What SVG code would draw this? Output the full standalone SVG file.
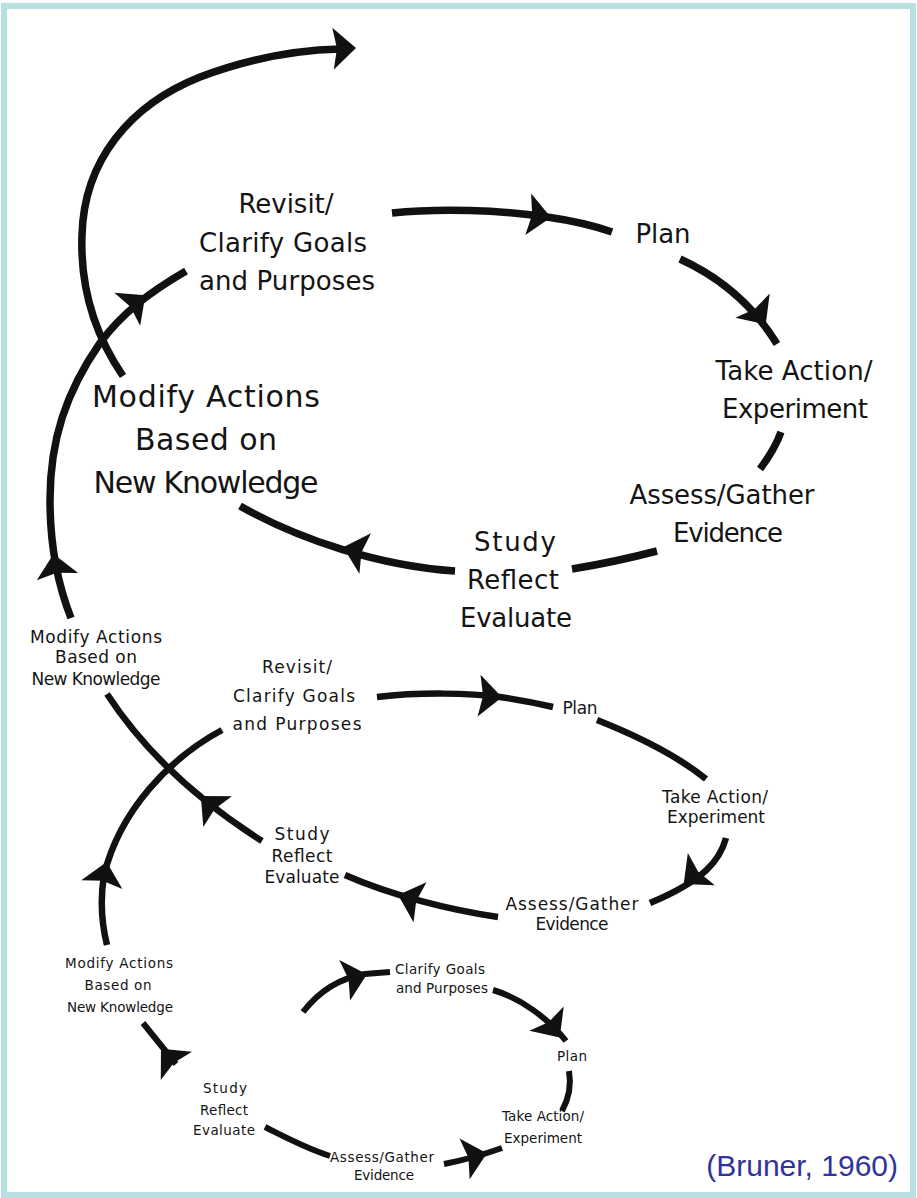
<svg xmlns="http://www.w3.org/2000/svg" xmlns:xlink="http://www.w3.org/1999/xlink" width="917" height="1198" viewBox="0 0 917 1198">
<style>
  .ln { fill: none; stroke: #111; stroke-linecap: butt; }
  .w1 { stroke-width: 7.5; }
  .w2 { stroke-width: 6.5; }
  .w3 { stroke-width: 6; }
  .ah { fill: #111; }
  text { font-family: "DejaVu Sans", "Liberation Sans", sans-serif; fill: #141414; text-anchor: middle; }
  .t1 { font-size: 26px; }
  .t0 { font-size: 30px; }
  .t2 { font-size: 17px; }
  .t3 { font-size: 13.5px; }
  .cite { font-family: "Liberation Sans", Arial, sans-serif; font-size: 30px; fill: #32339a; text-anchor: end; }
</style>
<defs>
  <path id="arrowhead" d="M3,0 L-20,-21 L-16,0 L-20,21 Z"/>
</defs>
<rect x="0" y="0" width="917" height="1198" fill="#ffffff"/>
<rect x="4" y="6" width="909" height="1189" fill="#ffffff" stroke="#b8dfe1" stroke-width="6"/>

<g id="connectors">
  <!-- big loop -->
  <path class="ln w1" d="M123,376 C95,335 80,290 82,235 C84,160 130,105 200,77 C250,58 300,50 340,49"/>
  <path class="ln w1" d="M71,618 C58,585 50,545 50,500 C50,440 66,392 100,343 C122,313 150,292 186,271"/>
  <path class="ln w1" d="M392,213 C440,208 500,210 547,217 C575,221 595,226 612,232"/>
  <path class="ln w1" d="M680,259 C715,275 750,300 777,344"/>
  <path class="ln w1" d="M781,432 C776,446 769,457 760,469"/>
  <path class="ln w1" d="M657,551 Q615,562 572,569"/>
  <path class="ln w1" d="M455,571 C380,566 300,540 240,506"/>
  <!-- middle loop -->
  <path class="ln w2" d="M377,697 C420,692 470,693 500,697 C520,700 540,704 553,707"/>
  <path class="ln w2" d="M597,720 C640,737 680,758 706,779"/>
  <path class="ln w2" d="M726,838 C720,860 705,880 650,903"/>
  <path class="ln w2" d="M498,917 C450,910 390,895 345,875"/>
  <path class="ln w2" d="M262,841 C210,808 150,760 107,694"/>
  <path class="ln w2" d="M222,730 C170,758 120,810 104,875 C100,900 102,925 107,945"/>
  <!-- bottom loop -->
  <path class="ln w3" d="M303,1012 C320,990 340,978 365,974 L390,972"/>
  <path class="ln w3" d="M493,990 C520,998 548,1018 566,1041"/>
  <path class="ln w3" d="M569,1071 C572,1088 568,1100 562,1111"/>
  <path class="ln w3" d="M444,1164 C465,1160 485,1154 502,1148"/>
  <path class="ln w3" d="M265,1127 C285,1137 305,1148 330,1156"/>
  <path class="ln w3" d="M143,1023 L176,1064"/>
  <!-- arrowheads -->
  <use xlink:href="#arrowhead" class="ah" transform="translate(353,48) rotate(-2)"/>
  <use xlink:href="#arrowhead" class="ah" transform="translate(54,557) rotate(-100)"/>
  <use xlink:href="#arrowhead" class="ah" transform="translate(143,297) rotate(-38)"/>
  <use xlink:href="#arrowhead" class="ah" transform="translate(548,217) rotate(8)"/>
  <use xlink:href="#arrowhead" class="ah" transform="translate(764,322) rotate(55)"/>
  <use xlink:href="#arrowhead" class="ah" transform="translate(346,548) rotate(196)"/>
  <use xlink:href="#arrowhead" class="ah" transform="translate(499,697) rotate(4)"/>
  <use xlink:href="#arrowhead" class="ah" transform="translate(686,882) rotate(140)"/>
  <use xlink:href="#arrowhead" class="ah" transform="translate(401,896) rotate(198)"/>
  <use xlink:href="#arrowhead" class="ah" transform="translate(203,798) rotate(223)"/>
  <use xlink:href="#arrowhead" class="ah" transform="translate(106,865) rotate(-78)"/>
  <use xlink:href="#arrowhead" class="ah" transform="translate(364,975) rotate(-15)"/>
  <use xlink:href="#arrowhead" class="ah" transform="translate(558,1035) rotate(55)"/>
  <use xlink:href="#arrowhead" class="ah" transform="translate(484,1154) rotate(-14)"/>
  <use xlink:href="#arrowhead" class="ah" transform="translate(163,1051) rotate(228)"/>
</g>

<!-- big loop nodes -->
<g id="n-revisit-1">
  <text class="t1" x="286" y="213" textLength="95">Revisit/</text>
  <text class="t1" x="283" y="252" textLength="168">Clarify Goals</text>
  <text class="t1" x="287" y="290" textLength="176">and Purposes</text>
</g>
<g id="n-plan-1"><text class="t1" x="663" y="243" textLength="55">Plan</text></g>
<g id="n-action-1">
  <text class="t1" x="794" y="380" textLength="157">Take Action/</text>
  <text class="t1" x="795" y="418" textLength="146">Experiment</text>
</g>
<g id="n-assess-1">
  <text class="t1" x="722" y="504" textLength="185">Assess/Gather</text>
  <text class="t1" x="728" y="542" textLength="110">Evidence</text>
</g>
<g id="n-study-1">
  <text class="t1" x="515" y="551" textLength="82">Study</text>
  <text class="t1" x="513" y="589" textLength="92">Reflect</text>
  <text class="t1" x="516" y="627" textLength="112">Evaluate</text>
</g>
<g id="n-modify-1">
  <text class="t0" x="206" y="407" textLength="228">Modify Actions</text>
  <text class="t0" x="206" y="450" textLength="142">Based on</text>
  <text class="t0" x="206" y="493" textLength="225">New Knowledge</text>
</g>

<!-- middle loop nodes -->
<g id="n-modify-2">
  <text class="t2" x="96" y="643" textLength="132">Modify Actions</text>
  <text class="t2" x="96" y="663" textLength="82">Based on</text>
  <text class="t2" x="96" y="685" textLength="129">New Knowledge</text>
</g>
<g id="n-revisit-2">
  <text class="t2" x="297" y="673" textLength="70">Revisit/</text>
  <text class="t2" x="294" y="702" textLength="122">Clarify Goals</text>
  <text class="t2" x="297" y="730" textLength="129">and Purposes</text>
</g>
<g id="n-plan-2"><text class="t2" x="580" y="714" textLength="35">Plan</text></g>
<g id="n-action-2">
  <text class="t2" x="715" y="803" textLength="106">Take Action/</text>
  <text class="t2" x="716" y="823" textLength="98">Experiment</text>
</g>
<g id="n-assess-2">
  <text class="t2" x="572" y="910" textLength="133">Assess/Gather</text>
  <text class="t2" x="572" y="930" textLength="73">Evidence</text>
</g>
<g id="n-study-2">
  <text class="t2" x="302" y="840" textLength="55">Study</text>
  <text class="t2" x="302" y="862" textLength="61">Reflect</text>
  <text class="t2" x="302" y="883" textLength="75">Evaluate</text>
</g>

<!-- bottom loop nodes -->
<g id="n-modify-3">
  <text class="t3" x="119" y="968" textLength="108">Modify Actions</text>
  <text class="t3" x="118" y="990" textLength="67">Based on</text>
  <text class="t3" x="120" y="1012" textLength="106">New Knowledge</text>
</g>
<g id="n-clarify-3">
  <text class="t3" x="440" y="974" textLength="90">Clarify Goals</text>
  <text class="t3" x="442" y="993" textLength="92">and Purposes</text>
</g>
<g id="n-plan-3"><text class="t3" x="572" y="1061" textLength="30">Plan</text></g>
<g id="n-action-3">
  <text class="t3" x="543" y="1121" textLength="82">Take Action/</text>
  <text class="t3" x="543" y="1143" textLength="78">Experiment</text>
</g>
<g id="n-study-3">
  <text class="t3" x="225" y="1093" textLength="44">Study</text>
  <text class="t3" x="224" y="1115" textLength="48">Reflect</text>
  <text class="t3" x="224" y="1135" textLength="62">Evaluate</text>
</g>
<g id="n-assess-3">
  <text class="t3" x="382" y="1162" textLength="104">Assess/Gather</text>
  <text class="t3" x="384" y="1180" textLength="60">Evidence</text>
</g>

<g id="citation"><text class="cite" x="898" y="1176">(Bruner, 1960)</text></g>
</svg>
